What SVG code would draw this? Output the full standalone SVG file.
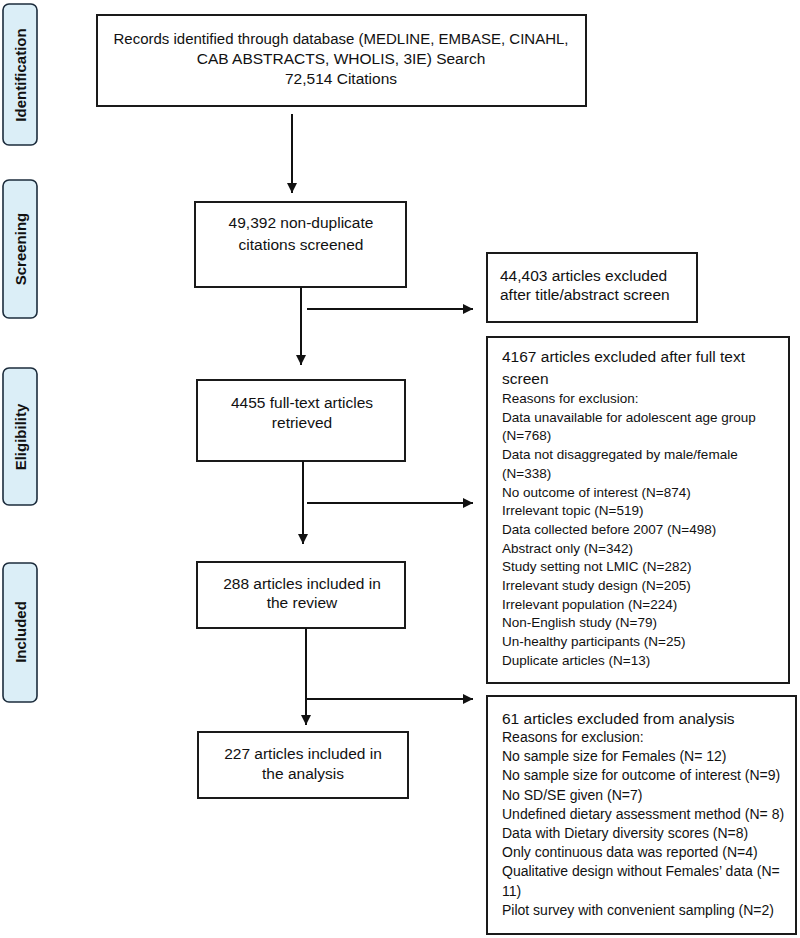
<svg xmlns="http://www.w3.org/2000/svg" width="800" height="938" viewBox="0 0 800 938">
<defs>
<style>
.bg{fill:#ffffff}
.box{fill:#ffffff;stroke:#1a1a1a;stroke-width:2}
.side{fill:#dbeef7;stroke:#1c2c3c;stroke-width:1.6}
.stxt{font-family:"Liberation Sans",Arial,sans-serif;font-weight:bold;font-size:15px;fill:#111;text-anchor:middle}
.t{font-family:"Liberation Sans",Arial,sans-serif;font-size:15.5px;fill:#111}
.c{text-anchor:middle}
.b1{font-family:"Liberation Sans",Arial,sans-serif;font-size:13.5px;fill:#111}
.b2{font-family:"Liberation Sans",Arial,sans-serif;font-size:14px;fill:#111}
.ln{fill:none;stroke:#111;stroke-width:2}
</style>
<marker id="ah" viewBox="0 0 10 10" refX="10" refY="5" markerWidth="10" markerHeight="10" markerUnits="userSpaceOnUse" orient="auto">
<path d="M0,0 L10,5 L0,10 z" fill="#111"/>
</marker>
</defs>
<rect class="bg" x="0" y="0" width="800" height="938"/>

<g id="stage-identification">
<rect class="side" x="3" y="4" width="34" height="141" rx="6"/>
<text class="stxt" transform="translate(25.5,75) rotate(-90)">Identification</text>
</g>
<g id="stage-screening">
<rect class="side" x="3" y="180" width="34" height="138" rx="6"/>
<text class="stxt" transform="translate(25.5,249) rotate(-90)">Screening</text>
</g>
<g id="stage-eligibility">
<rect class="side" x="3" y="368" width="34" height="137" rx="6"/>
<text class="stxt" transform="translate(25.5,437) rotate(-90)">Eligibility</text>
</g>
<g id="stage-included">
<rect class="side" x="3" y="563" width="34" height="139" rx="6"/>
<text class="stxt" transform="translate(25.5,632) rotate(-90)">Included</text>
</g>

<g id="records">
<rect class="box" x="97" y="15" width="489" height="91"/>
<text class="t c" x="341" y="44" textLength="455" lengthAdjust="spacingAndGlyphs">Records identified through database (MEDLINE, EMBASE, CINAHL,</text>
<text class="t c" x="341" y="64">CAB ABSTRACTS, WHOLIS, 3IE) Search</text>
<text class="t c" x="341" y="84">72,514 Citations</text>
</g>

<g id="screened">
<rect class="box" x="195" y="202" width="211" height="85"/>
<text class="t c" x="301" y="228">49,392 non-duplicate</text>
<text class="t c" x="301" y="250">citations screened</text>
</g>

<g id="excluded-title">
<rect class="box" x="487" y="253" width="210" height="69"/>
<text class="t" x="500" y="281">44,403 articles excluded</text>
<text class="t" x="500" y="300">after title/abstract screen</text>
</g>

<g id="fulltext">
<rect class="box" x="197" y="380" width="208" height="81"/>
<text class="t c" x="302" y="408">4455 full-text articles</text>
<text class="t c" x="302" y="428">retrieved</text>
</g>

<g id="excluded-fulltext">
<rect class="box" x="487" y="337" width="302" height="346"/>
<text class="t" x="502" y="362">4167 articles excluded after full text</text>
<text class="t" x="502" y="384">screen</text>
<text class="b1" x="502" y="403">Reasons for exclusion:</text>
<text class="b1" x="502" y="421.7">Data unavailable for adolescent age group</text>
<text class="b1" x="502" y="440.4">(N=768)</text>
<text class="b1" x="502" y="459.1">Data not disaggregated by male/female</text>
<text class="b1" x="502" y="477.8">(N=338)</text>
<text class="b1" x="502" y="496.5">No outcome of interest (N=874)</text>
<text class="b1" x="502" y="515.2">Irrelevant topic (N=519)</text>
<text class="b1" x="502" y="533.9">Data collected before 2007 (N=498)</text>
<text class="b1" x="502" y="552.6">Abstract only (N=342)</text>
<text class="b1" x="502" y="571.3">Study setting not LMIC (N=282)</text>
<text class="b1" x="502" y="590">Irrelevant study design (N=205)</text>
<text class="b1" x="502" y="608.7">Irrelevant population (N=224)</text>
<text class="b1" x="502" y="627.4">Non-English study (N=79)</text>
<text class="b1" x="502" y="646.1">Un-healthy participants (N=25)</text>
<text class="b1" x="502" y="664.8">Duplicate articles (N=13)</text>
</g>

<g id="review">
<rect class="box" x="197" y="562" width="208" height="66"/>
<text class="t c" x="302" y="589">288 articles included in</text>
<text class="t c" x="302" y="608">the review</text>
</g>

<g id="analysis">
<rect class="box" x="198" y="732" width="210" height="66"/>
<text class="t c" x="303" y="759">227 articles included in</text>
<text class="t c" x="303" y="779">the analysis</text>
</g>

<g id="excluded-analysis">
<rect class="box" x="487" y="696" width="309" height="238"/>
<text class="t" x="502" y="723.5">61 articles excluded from analysis</text>
<text class="b2" x="502" y="742">Reasons for exclusion:</text>
<text class="b2" x="502" y="761.2">No sample size for Females (N= 12)</text>
<text class="b2" x="502" y="780.4">No sample size for outcome of interest (N=9)</text>
<text class="b2" x="502" y="799.6">No SD/SE given (N=7)</text>
<text class="b2" x="502" y="818.8">Undefined dietary assessment method (N= 8)</text>
<text class="b2" x="502" y="838">Data with Dietary diversity scores (N=8)</text>
<text class="b2" x="502" y="857.2">Only continuous data was reported (N=4)</text>
<text class="b2" x="502" y="876.4">Qualitative design without Females’ data (N=</text>
<text class="b2" x="502" y="895.6">11)</text>
<text class="b2" x="502" y="914.8">Pilot survey with convenient sampling (N=2)</text>
</g>

<g id="connectors">
<line class="ln" x1="292" y1="114" x2="292" y2="193" marker-end="url(#ah)"/>
<line class="ln" x1="301" y1="287" x2="301" y2="365" marker-end="url(#ah)"/>
<line class="ln" x1="307" y1="309" x2="473" y2="309" marker-end="url(#ah)"/>
<line class="ln" x1="303" y1="461" x2="303" y2="544" marker-end="url(#ah)"/>
<line class="ln" x1="307" y1="503" x2="473" y2="503" marker-end="url(#ah)"/>
<line class="ln" x1="306" y1="628" x2="306" y2="725" marker-end="url(#ah)"/>
<line class="ln" x1="306" y1="699" x2="473" y2="699" marker-end="url(#ah)"/>
</g>
</svg>
